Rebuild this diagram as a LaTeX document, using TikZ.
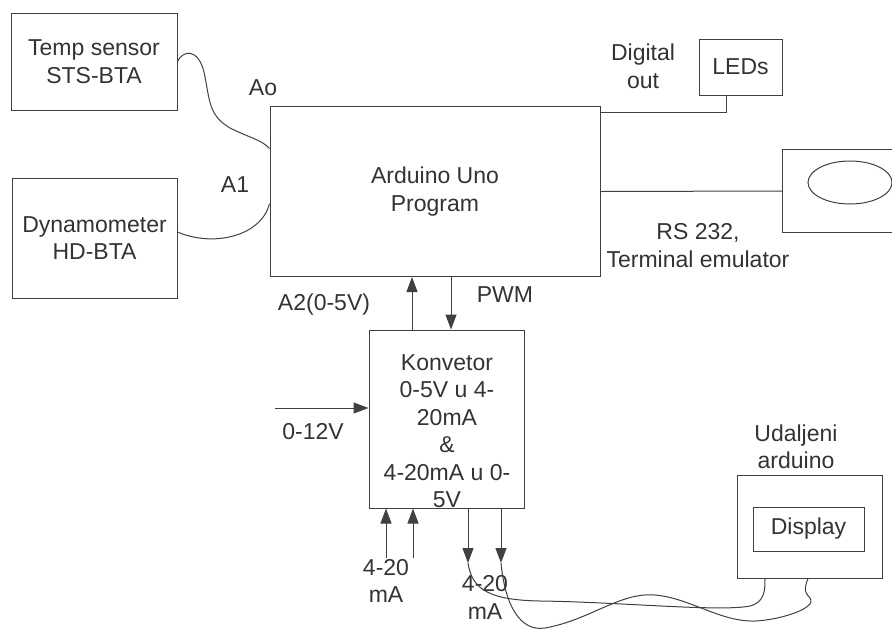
\documentclass[tikz,border=0pt]{standalone}
\usepackage{fontspec}
\setmainfont{Liberation Sans}
\usetikzlibrary{arrows.meta}
\definecolor{wire}{rgb}{0.25, 0.25, 0.25}
\definecolor{ink}{rgb}{0.2, 0.2, 0.2}
\tikzset{
	blok/.style={draw=wire,line width=1pt,inner sep=0pt,align=center,text=ink},
	lbl/.style={inner sep=0pt,align=center,text=ink},
	arr/.style={-{Triangle[length=15pt,width=11pt]}}
}

\begin{document}
\begin{tikzpicture}[x=1pt,y=-1pt,font=\fontsize{23}{27.5}\selectfont,line width=1pt,draw=wire]
				\useasboundingbox (0,0) rectangle (892,630);
				% boxes
				\node[blok,minimum width=166pt,minimum height=97pt] (temp) at (94,61.5) {Temp sensor\\STS-BTA};
				\node[blok,minimum width=165pt,minimum height=120pt] (dyn) at (94.5,238) {Dynamometer\\HD-BTA};
				\node[blok,minimum width=330pt,minimum height=170pt] (ard) at (435,191.5) {Arduino Uno\\Program};
				\node[blok,minimum width=83pt,minimum height=56pt] (leds) at (740.5,67) {LEDs};
				\node[minimum width=110pt,minimum height=82pt,inner sep=0pt,anchor=west] (mon) at (782,191) {};
				\node[blok,minimum width=155pt,minimum height=178pt] (konv) at (446.5,419) {};
				\node[lbl] (konvtxt) at (447,431) {Konvetor\\0-5V u 4-\\20mA\\\&\\4-20mA u 0-\\5V};
				\node[blok,minimum width=145pt,minimum height=103pt] (udalj) at (809.5,526.5) {};
				\node[blok,minimum width=111pt,minimum height=44pt] (disp) at (808.5,529) {Display};
				% labels
				\node[lbl] (ao) at (263,88) {Ao};
				\node[lbl] (a1) at (235,185) {A1};
				\node[lbl] (a2) at (324,305) {A2(0-5V)};
				\node[lbl] (pwm) at (505,295) {PWM};
				\node[lbl] (dig) at (643,66.5) {Digital\\out};
				\node[lbl] (rs) at (698,245.5) {RS 232,\\Terminal emulator};
				\node[lbl] (vlbl) at (313,432) {0-12V};
				\node[lbl] (ilbl) at (386,581) {4-20\\mA};
				\node[lbl] (olbl) at (485,597.5) {4-20\\mA};
				\node[lbl] (ulbl) at (796,447) {Udaljeni\\arduino};
				% monitor
				\draw (mon.north east) -- (mon.north west) -- (mon.south west) -- (mon.south east);
				\draw (850,182.5) ellipse [x radius=42pt,y radius=21.5pt];
				% sensor wires
				\draw (temp.east) .. controls (183,50) and (198,48) .. (204,72) .. controls (210,100) and (208,115) .. (230,128) .. controls (250,138) and (262,140) .. ([yshift=43pt]ard.west);
				\draw ([yshift=6pt]dyn.east) .. controls (215,248) and (262,235) .. ([yshift=-12pt]ard.west);
				% digital out and serial
				\draw ([yshift=-6pt]ard.north east) -| ([xshift=-14pt]leds.south);
				\draw (ard.east) -- (mon.west);
				% arduino <-> konvertor
				\draw[arr] ([xshift=-34.5pt]konv.north) -- ([xshift=-34.5pt]konv.north |- ard.south);
				\draw[arr] ([xshift=4.5pt]konv.north |- ard.south) -- ([xshift=4.5pt]konv.north);
				\coordinate (vin) at (275,408);
				\draw[arr] (vin) -- (vin -| konv.west);
				\foreach \x/\n in {386/i1,413/i2}{\coordinate (\n) at (\x,558); \draw[arr] (\n) -- (\n |- konv.south);}
				\foreach \x/\n in {468/o1,501/o2}{\coordinate (\n) at (\x,563); \draw[arr] (\n |- konv.south) -- (\n);}
				% wires to remote arduino
				\draw (o1) .. controls (472,590) and (490,600) .. (540,601) .. controls (620,602) and (720,612) .. (750,606) .. controls (765,602) and (765,590) .. ([xshift=-44.5pt]udalj.south);
				\draw (o2) .. controls (505,605) and (520,632) .. (545,628) .. controls (590,620) and (620,592) .. (655,595) .. controls (690,598) and (720,622) .. (755,621) .. controls (780,620) and (818,608) .. (810,598) .. controls (802,590) and (806,585) .. ([xshift=-1.5pt]udalj.south);
			\end{tikzpicture}
\end{document}
